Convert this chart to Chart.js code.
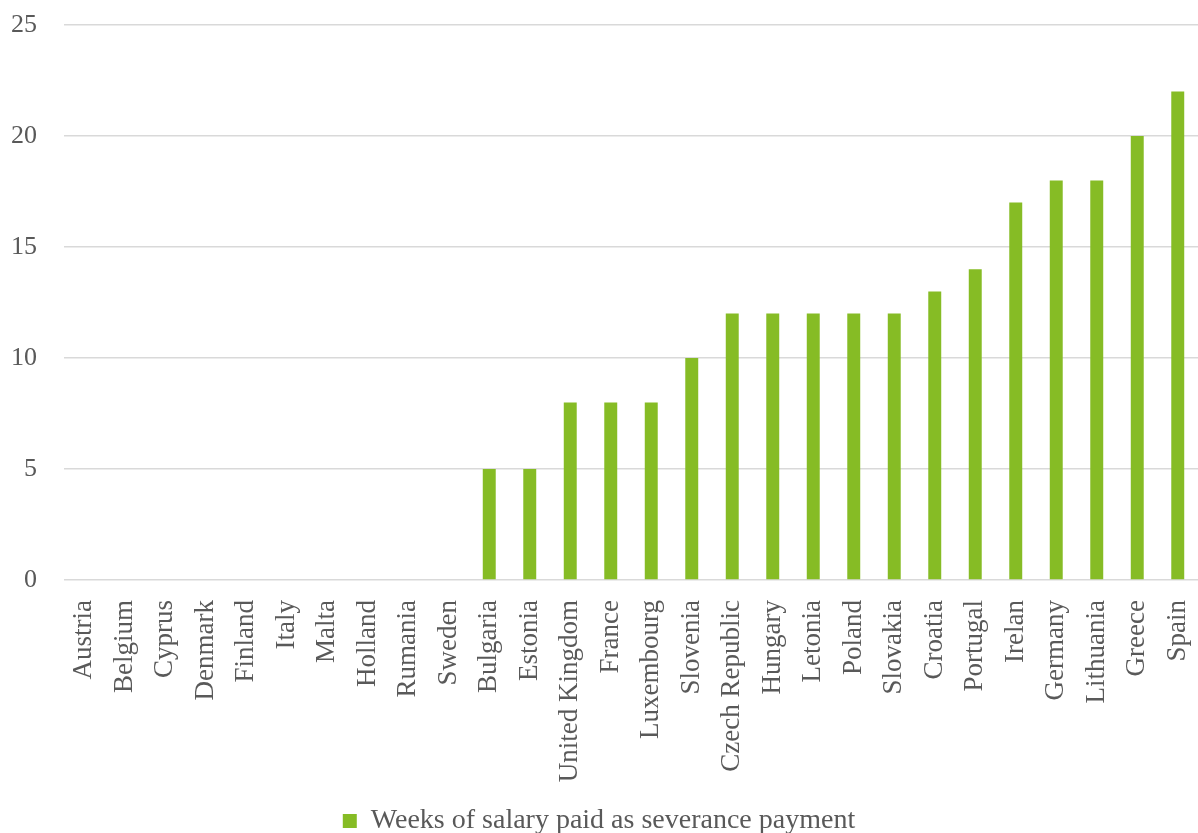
<!DOCTYPE html>
<html>
<head>
<meta charset="utf-8">
<script src="https://cdn.jsdelivr.net/npm/chart.js@4"></script>
<style>
  html, body { margin: 0; padding: 0; background: #fff; }
  #wrap { width: 1198px; height: 833px; }
</style>
</head>
<body>
<div id="wrap"><canvas id="chart" width="1198" height="833"></canvas></div>
<script>
const countries = [
  "Austria", "Belgium", "Cyprus", "Denmark", "Finland", "Italy", "Malta",
  "Holland", "Rumania", "Sweden", "Bulgaria", "Estonia", "United Kingdom",
  "France", "Luxembourg", "Slovenia", "Czech Republic", "Hungary", "Letonia",
  "Poland", "Slovakia", "Croatia", "Portugal", "Irelan", "Germany",
  "Lithuania", "Greece", "Spain",
];
const weeks = [0, 0, 0, 0, 0, 0, 0, 0, 0, 0, 5, 5, 8, 8, 8, 10, 12, 12, 12, 12, 12, 13, 14, 17, 18, 18, 20, 22];
const seriesName = "Weeks of salary paid as severance payment";

const green = "#86bc25";
const textGrey = "#595959";
const font = "'Liberation Serif', 'Times New Roman', serif";

const ctx = document.getElementById("chart").getContext("2d");

new Chart(ctx, {
  type: "bar",
  data: {
    labels: countries,
    datasets: [
      {
        label: seriesName,
        data: weeks,
        backgroundColor: green,
        borderWidth: 0,
        categoryPercentage: 1,
        barPercentage: 0.32,
      },
    ],
  },
  options: {
    responsive: false,
    animation: false,
    layout: { padding: { top: 25, right: 0, left: 0, bottom: -12 } },
    plugins: {
      tooltip: { enabled: false },
      legend: {
        position: "bottom",
        labels: {
          color: textGrey,
          font: { family: font, size: 28 },
          boxWidth: 14,
          boxHeight: 14,
          padding: 0,
        },
      },
    },
    scales: {
      x: {
        grid: { display: false },
        border: { display: false },
        ticks: {
          color: textGrey,
          font: { family: font, size: 27 },
          minRotation: 90,
          maxRotation: 90,
          autoSkip: false,
          padding: 12,
        },
        afterFit: (scale) => {
          scale.height = 227; // room for the rotated country names
          scale.paddingLeft = 0;
          scale.paddingRight = 0;
        },
      },
      y: {
        min: 0,
        max: 25,
        border: { display: false },
        grid: { color: "#d9d9d9", lineWidth: 1.5, drawTicks: false },
        ticks: {
          stepSize: 5,
          color: textGrey,
          font: { family: font, size: 26 },
          padding: 27,
        },
        afterFit: (scale) => {
          scale.width = 64;
          scale.paddingTop = 0;
          scale.paddingBottom = 0;
        },
      },
    },
  },
});
</script>
</body>
</html>
